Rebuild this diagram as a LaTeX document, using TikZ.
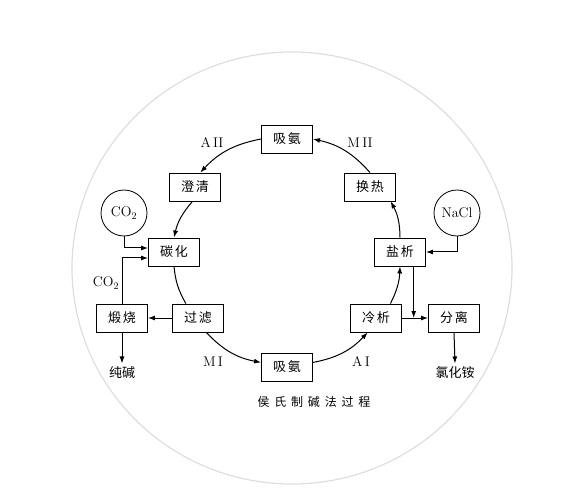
\documentclass[tikz,border=0pt]{standalone}
\usepackage{fontspec}
\newfontfamily\cjk{Noto Sans CJK SC}
\usetikzlibrary{arrows.meta,positioning,calc}

\tikzset{
  proc/.style={draw,line width=0.9pt,minimum width=51pt,minimum height=28pt,inner sep=0pt,
    font=\cjk\fontsize{13}{15}\selectfont\addfontfeature{LetterSpace=12}},
  feed/.style={draw,circle,line width=0.8pt,minimum size=46pt,inner sep=0pt,font=\fontsize{14}{16}\selectfont},
  flow/.style={line width=1pt,-{Latex[length=7pt,width=5pt]}},
  plain/.style={line width=1pt},
  lbl/.style={font=\fontsize{14}{16}\selectfont},
  prod/.style={font=\cjk\fontsize{13}{15}\selectfont},
}

\begin{document}
\begin{tikzpicture}[x=1pt,y=1pt]
\useasboundingbox (0,0) rectangle (580,490);
% outer disc
\draw[black!13,line width=1.2pt] (292,222) ellipse [x radius=220,y radius=216];

% process steps on the cycle
\node[proc] (absTop) at (287,351) {吸氨};
\node[proc] (clarify) at (195,303) {澄清};
\node[proc] (heatex) at (370,303) {换热};
\node[proc] (carbon) at (174,238) {碳化};
\node[proc] (salting) at (400,238) {盐析};
\node[proc] (filter) at (198,172) {过滤};
\node[proc] (cooling) at (376,172) {冷析};
\node[proc] (absBot) at (287,123) {吸氨};
% side steps
\node[proc] (calcine) at (122,172) {煅烧};
\node[proc] (separate) at (454,172) {分离};
\node[feed] (co2) at (124,277) {CO$_2$};
\node[feed] (nacl) at (457,277) {NaCl};
\node[prod] (soda) at (122,117) {纯碱};
\node[prod] (nh4cl) at (455,117) {氯化铵};
\node[prod,font=\cjk\fontsize{12}{14}\selectfont\addfontfeature{LetterSpace=40}] (title) at (314,88) {侯氏制碱法过程};

% mother liquor labels
\node[lbl] (la2) at (212,347) {A\,II};
\node[lbl] (lm2) at (360,347) {M\,II};
\node[lbl] (lm1) at (213,128) {M\,I};
\node[lbl] (la1) at (361,128) {A\,I};
\node[lbl] (lco2) at (106,207) {CO$_2$};

% the cycle
\draw[flow] (absTop.west) to[bend right=18] (clarify.70);
\draw[flow] (clarify.-100) to[bend right=14] (carbon.north);
\draw[plain] (carbon.south) to[bend right=12] (filter.130);
\draw[flow] (filter.-60) to[bend right=18] (absBot.170);
\draw[flow] (absBot.10) to[bend right=18] (cooling.-120);
\draw[flow] (cooling.45) to[bend right=12] (salting.south);
\draw[flow] (salting.north) to[bend right=14] (heatex.-35);
\draw[flow] (heatex.north) to[bend right=18] (absTop.east);

% feeds and products
\draw[flow] (co2.south) |- ([yshift=4]carbon.west);
\draw[flow] (calcine.north) |- ([yshift=-6]carbon.west);
\draw[flow] (filter.west) -- (calcine.east);
\draw[flow] (calcine.south) -- (soda.north);
\draw[flow] (nacl.south) |- (salting.east);
\coordinate (join) at ($(cooling.east)!0.45!(separate.west)$);
\draw[flow] (cooling.east) -- (separate.west);
\draw[flow] (salting.south -| join) -- (join);
\draw[flow] (separate.south) -- (nh4cl.north);
\end{tikzpicture}
\end{document}
